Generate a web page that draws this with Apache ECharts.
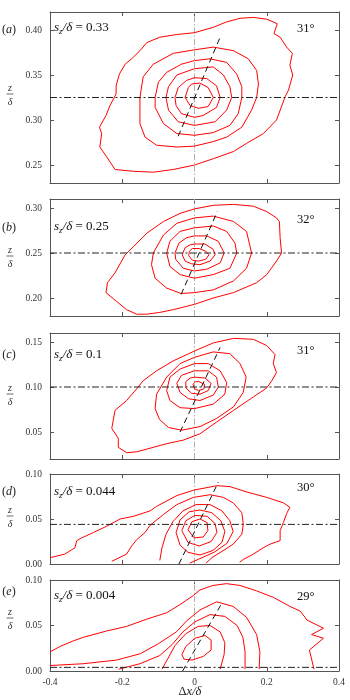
<!DOCTYPE html>
<html>
<head>
<meta charset="utf-8">
<script src="https://cdn.jsdelivr.net/npm/echarts@6/dist/echarts.min.js"></script>
<style>
html, body { margin: 0; padding: 0; background: #fff; }
#chart { width: 350px; height: 700px; }
</style>
</head>
<body>
<div id="chart"></div>
<script>
// ---- data ----
const xRange = [-0.4, 0.4];
const xTickStep = 0.2;
const yRanges = [[0.23, 0.42], [0.18, 0.31], [0.02, 0.16], [0, 0.10], [0, 0.10]];
const yTicks = [
    [0.25, 0.30, 0.35, 0.40],
    [0.20, 0.25, 0.30],
    [0.05, 0.10, 0.15],
    [0, 0.05, 0.10],
    [0, 0.05, 0.10]
];
const panelNames = ['a', 'b', 'c', 'd', 'e'];
const szLevels = [0.325, 0.25, 0.10, 0.044, 0.004];
const szLabels = ['0.33', '0.25', '0.1', '0.044', '0.004'];
const angleLabels = ['31°', '32°', '31°', '30°', '29°'];

// contour lines, outer to inner
const contoursA = [
    [[-0.263,0.292],[-0.257,0.285],[-0.262,0.270],[-0.243,0.259],[-0.220,0.245],[-0.169,0.243],[-0.114,0.242],[-0.059,0.245],[0,0.250],[0.052,0.257],[0.108,0.265],[0.144,0.274],[0.191,0.285],[0.227,0.300],[0.251,0.326],[0.260,0.333],[0.272,0.350],[0.264,0.361],[0.271,0.374],[0.255,0.381],[0.237,0.392],[0.220,0.396],[0.229,0.407],[0.200,0.412],[0.163,0.414],[0.126,0.413],[0.089,0.409],[0.052,0.403],[0,0.397],[-0.049,0.395],[-0.096,0.392],[-0.132,0.386],[-0.151,0.377],[-0.174,0.368],[-0.192,0.362],[-0.208,0.351],[-0.217,0.338],[-0.217,0.329],[-0.234,0.316],[-0.245,0.305],[-0.263,0.292]],
    [[0,0.378],[0.052,0.381],[0.108,0.377],[0.149,0.368],[0.172,0.355],[0.177,0.340],[0.172,0.325],[0.158,0.311],[0.131,0.292],[0.089,0.281],[0.052,0.276],[0,0.271],[-0.049,0.270],[-0.105,0.272],[-0.137,0.281],[-0.151,0.296],[-0.151,0.325],[-0.142,0.348],[-0.114,0.362],[-0.059,0.374],[0,0.378]],
    [[0,0.366],[0.043,0.368],[0.089,0.364],[0.117,0.351],[0.131,0.337],[0.131,0.325],[0.121,0.307],[0.098,0.294],[0.052,0.286],[0,0.283],[-0.049,0.285],[-0.086,0.296],[-0.109,0.314],[-0.109,0.325],[-0.100,0.342],[-0.077,0.353],[-0.036,0.362],[0,0.366]],
    [[0,0.357],[0.052,0.359],[0.080,0.350],[0.098,0.337],[0.103,0.325],[0.089,0.311],[0.057,0.298],[0,0.294],[-0.045,0.298],[-0.072,0.311],[-0.079,0.325],[-0.072,0.337],[-0.049,0.350],[0,0.357]],
    [[0,0.347],[0.034,0.346],[0.061,0.338],[0.071,0.325],[0.061,0.314],[0.024,0.305],[0,0.303],[-0.036,0.307],[-0.051,0.316],[-0.054,0.325],[-0.045,0.336],[-0.022,0.344],[0,0.347]],
    [[-0.008,0.340],[0.015,0.341],[0.038,0.336],[0.052,0.325],[0.038,0.315],[0.011,0.313],[-0.012,0.316],[-0.026,0.325],[-0.017,0.336],[-0.008,0.340]]
];
const contoursB = [
    [[-0.245,0.206],[-0.241,0.217],[-0.220,0.228],[-0.192,0.248],[-0.169,0.257],[-0.132,0.272],[-0.086,0.285],[-0.040,0.294],[0,0.299],[0.052,0.303],[0.108,0.304],[0.163,0.302],[0.200,0.296],[0.227,0.289],[0.235,0.285],[0.237,0.267],[0.241,0.250],[0.227,0.241],[0.200,0.226],[0.172,0.217],[0.108,0.206],[0.052,0.200],[0,0.193],[-0.059,0.187],[-0.096,0.184],[-0.132,0.182],[-0.160,0.182],[-0.188,0.187],[-0.215,0.196],[-0.245,0.206]],
    [[0,0.289],[0.052,0.291],[0.108,0.285],[0.144,0.274],[0.158,0.250],[0.144,0.233],[0.108,0.219],[0.052,0.209],[0,0.206],[-0.037,0.205],[-0.077,0.211],[-0.109,0.222],[-0.119,0.237],[-0.114,0.250],[-0.086,0.270],[-0.049,0.283],[0,0.289]],
    [[0,0.278],[0.052,0.280],[0.089,0.274],[0.112,0.261],[0.117,0.250],[0.098,0.233],[0.052,0.226],[0,0.222],[-0.040,0.226],[-0.068,0.235],[-0.077,0.250],[-0.068,0.263],[-0.040,0.274],[0,0.278]],
    [[0,0.269],[0.034,0.269],[0.066,0.263],[0.082,0.250],[0.071,0.239],[0.034,0.232],[0,0.230],[-0.031,0.233],[-0.052,0.243],[-0.054,0.250],[-0.043,0.261],[-0.022,0.267],[0,0.269]],
    [[0,0.260],[0.029,0.260],[0.052,0.254],[0.057,0.248],[0.043,0.241],[0.015,0.237],[-0.008,0.238],[-0.026,0.241],[-0.034,0.248],[-0.026,0.256],[-0.012,0.259],[0,0.260]],
    [[-0.006,0.255],[0.013,0.255],[0.031,0.252],[0.040,0.248],[0.031,0.243],[0.011,0.241],[-0.006,0.242],[-0.016,0.247],[-0.014,0.252],[-0.006,0.255]]
];
const contoursC = [
    [[-0.220,0.074],[-0.188,0.085],[-0.160,0.098],[-0.142,0.107],[-0.105,0.118],[-0.059,0.129],[0,0.140],[0.052,0.149],[0.108,0.154],[0.163,0.153],[0.200,0.146],[0.223,0.136],[0.218,0.126],[0.227,0.116],[0.214,0.107],[0.200,0.099],[0.163,0.089],[0.108,0.074],[0.061,0.061],[0.015,0.048],[-0.031,0.041],[-0.077,0.037],[-0.123,0.032],[-0.160,0.028],[-0.188,0.027],[-0.211,0.033],[-0.211,0.043],[-0.229,0.054],[-0.220,0.074]],
    [[-0.109,0.076],[-0.105,0.092],[-0.077,0.111],[-0.040,0.126],[0,0.133],[0.052,0.139],[0.098,0.137],[0.126,0.126],[0.143,0.111],[0.135,0.094],[0.108,0.078],[0.061,0.065],[0.015,0.056],[-0.035,0.052],[-0.072,0.055],[-0.097,0.064],[-0.109,0.076]],
    [[0,0.126],[0.038,0.126],[0.071,0.118],[0.089,0.105],[0.084,0.092],[0.052,0.081],[0,0.076],[-0.040,0.077],[-0.068,0.085],[-0.077,0.096],[-0.068,0.111],[-0.040,0.120],[0,0.126]],
    [[0,0.118],[0.038,0.118],[0.061,0.111],[0.066,0.100],[0.052,0.091],[0.015,0.085],[-0.017,0.087],[-0.040,0.094],[-0.049,0.104],[-0.036,0.113],[0,0.118]],
    [[0,0.111],[0.029,0.110],[0.046,0.104],[0.038,0.096],[0.015,0.092],[-0.008,0.093],[-0.024,0.099],[-0.024,0.106],[-0.012,0.110],[0,0.111]],
    [[0.012,0.106],[0.028,0.103],[0.026,0.098],[0.011,0.096],[0,0.098],[-0.004,0.103],[0.003,0.106],[0.012,0.106]]
];
const contoursD = [
    [[-0.400,0.007],[-0.359,0.011],[-0.331,0.018],[-0.326,0.026],[-0.312,0.029],[-0.280,0.035],[-0.243,0.042],[-0.206,0.050],[-0.169,0.053],[-0.123,0.059],[-0.105,0.064],[-0.049,0.076],[-0.003,0.082],[0.062,0.087],[0.098,0.086],[0.145,0.080],[0.200,0.074],[0.246,0.068],[0.264,0.063],[0.255,0.056],[0.246,0.046],[0.237,0.037],[0.237,0.026],[0.209,0.022],[0.190,0.018],[0.163,0.011],[0.135,0.005],[0.125,0.002]],
    [[-0.229,0.003],[-0.188,0.011],[-0.174,0.020],[-0.160,0.027],[-0.137,0.035],[-0.123,0.043],[-0.086,0.055],[-0.049,0.066],[-0.003,0.074],[0.043,0.077],[0.080,0.074],[0.107,0.068],[0.131,0.057],[0.135,0.044],[0.131,0.033],[0.107,0.022],[0.076,0.014],[0.048,0.007],[0.032,0.001]],
    [[-0.096,0.004],[-0.090,0.018],[-0.079,0.033],[-0.060,0.047],[-0.032,0.059],[0.004,0.066],[0.043,0.066],[0.076,0.059],[0.098,0.048],[0.107,0.036],[0.090,0.023],[0.054,0.013],[0.015,0.006],[-0.013,0.001]],
    [[-0.051,0.035],[-0.040,0.049],[-0.015,0.058],[0.015,0.060],[0.048,0.057],[0.073,0.048],[0.084,0.036],[0.076,0.024],[0.051,0.015],[0.015,0.010],[-0.018,0.013],[-0.040,0.021],[-0.051,0.035]],
    [[-0.035,0.037],[-0.024,0.048],[0.001,0.054],[0.035,0.053],[0.057,0.045],[0.062,0.035],[0.046,0.025],[0.013,0.020],[-0.018,0.024],[-0.035,0.037]],
    [[-0.018,0.038],[-0.007,0.047],[0.015,0.050],[0.035,0.046],[0.037,0.037],[0.024,0.030],[-0.001,0.029],[-0.018,0.038]]
];
const contoursE = [
    [[-0.400,0.021],[-0.372,0.027],[-0.336,0.033],[-0.308,0.037],[-0.243,0.044],[-0.188,0.049],[-0.132,0.057],[-0.077,0.064],[-0.040,0.073],[-0.003,0.083],[0.015,0.089],[0.051,0.094],[0.089,0.096],[0.126,0.094],[0.172,0.088],[0.218,0.081],[0.264,0.071],[0.292,0.066],[0.306,0.059],[0.311,0.056],[0.357,0.047],[0.324,0.040],[0.357,0.036],[0.318,0.023],[0.329,0.005],[0.331,0.002]],
    [[-0.400,0.006],[-0.308,0.008],[-0.216,0.012],[-0.150,0.019],[-0.100,0.030],[-0.050,0.043],[-0.022,0.055],[0.015,0.067],[0.061,0.076],[0.107,0.071],[0.144,0.059],[0.172,0.040],[0.181,0.021],[0.179,0.002]],
    [[-0.210,0.002],[-0.151,0.008],[-0.096,0.017],[-0.062,0.029],[-0.032,0.043],[0.001,0.054],[0.043,0.062],[0.084,0.060],[0.118,0.050],[0.134,0.037],[0.140,0.021],[0.140,0.002]],
    [[-0.090,0.002],[-0.076,0.012],[-0.054,0.028],[-0.024,0.041],[0.010,0.049],[0.043,0.050],[0.071,0.043],[0.084,0.031],[0.082,0.018],[0.071,0.002]],
    [[-0.035,0.018],[-0.024,0.027],[0.001,0.036],[0.029,0.039],[0.046,0.034],[0.046,0.023],[0.024,0.016],[-0.007,0.012],[-0.029,0.013],[-0.035,0.018]]
];

// tilted principal axis (dashed)
const principalA = [[-0.045, 0.282], [0.071, 0.392]];
const principalB = [[-0.037, 0.204], [0.063, 0.296]];
const principalC = [[-0.040, 0.050], [0.071, 0.144]];
const principalD = [[-0.043, 0.000], [0.066, 0.091]];
const principalE = [[-0.033, 0.000], [0.078, 0.076]];

// ---- layout ----
const plotLeft = 50;
const plotWidth = 289;
const gridTops = [12, 199, 333, 474, 580];
const gridHeights = [171, 117, 126, 90, 91];
const panelLabelY = [30, 228, 355, 492, 592];
const szLabelY = [28, 227, 355, 492, 596];
const angleY = [29, 220, 351, 488, 597];
const fracBarY = [94, 256, 394, 516, 618];

const serif = '"Liberation Serif", "DejaVu Serif", serif';
const axisColor = '#555';
const red = '#ff0000';

const contourSets = [contoursA, contoursB, contoursC, contoursD, contoursE];
const principalLines = [principalA, principalB, principalC, principalD, principalE];

let charts = echarts.init(document.getElementById('chart'));

function xAxisCfg(i, pos, labels){
    return {
        gridIndex: i,
        type: 'value',
        position: pos,
        min: xRange[0],
        max: xRange[1],
        interval: xTickStep,
        axisLine: {show: true, onZero: false, lineStyle: {color: axisColor, width: 1}},
        axisTick: {show: true, inside: true, length: 4, lineStyle: {color: axisColor}},
        axisLabel: {
            show: labels,
            fontFamily: serif,
            fontSize: 9.5,
            color: '#333',
            margin: 6,
            formatter: v => (Math.abs(v) < 1e-9 ? '0' : String(+v.toFixed(1)))
        },
        splitLine: {show: false}
    };
}

function yAxisCfg(i, pos, labels){
    return {
        gridIndex: i,
        type: 'value',
        position: pos,
        min: yRanges[i][0],
        max: yRanges[i][1],
        axisLine: {show: true, onZero: false, lineStyle: {color: axisColor, width: 1}},
        axisTick: {show: true, inside: true, length: 4, customValues: yTicks[i], lineStyle: {color: axisColor}},
        axisLabel: {
            show: labels,
            customValues: yTicks[i],
            fontFamily: serif,
            fontSize: 9.5,
            color: '#333',
            margin: 8,
            formatter: v => v.toFixed(2)
        },
        splitLine: {show: false}
    };
}

const grids = [], xAxes = [], yAxes = [], series = [], graphics = [];

for (let i = 0; i < 5; i++){
    grids.push({left: plotLeft, top: gridTops[i], width: plotWidth, height: gridHeights[i]});
    xAxes.push(xAxisCfg(i, 'bottom', i === 4));
    xAxes.push(xAxisCfg(i, 'top', false));
    yAxes.push(yAxisCfg(i, 'left', true));
    yAxes.push(yAxisCfg(i, 'right', false));

    const axisRef = {xAxisIndex: 2 * i, yAxisIndex: 2 * i};

    // vertical reference at x = 0
    series.push(Object.assign({
        type: 'line',
        data: [[0, yRanges[i][0]], [0, yRanges[i][1]]],
        symbol: 'none',
        lineStyle: {color: '#b0b0b0', width: 1, type: [6, 2, 1.5, 2]},
        silent: true, z: 1
    }, axisRef));

    // contours
    contourSets[i].forEach(c => {
        series.push(Object.assign({
            type: 'line',
            data: c,
            symbol: 'none',
            smooth: false,
            lineStyle: {color: red, width: 1},
            silent: true, z: 2
        }, axisRef));
    });

    // horizontal reference at s_z
    series.push(Object.assign({
        type: 'line',
        data: [[xRange[0], szLevels[i]], [xRange[1], szLevels[i]]],
        symbol: 'none',
        lineStyle: {color: '#222', width: 1, type: [7, 2.5, 2, 2.5]},
        silent: true, z: 3
    }, axisRef));

    // principal axis
    series.push(Object.assign({
        type: 'line',
        data: principalLines[i],
        symbol: 'none',
        lineStyle: {color: '#111', width: 1, type: [6, 4]},
        silent: true, z: 3
    }, axisRef));

    // panel label (a) ...
    graphics.push({
        type: 'text',
        style: {
            x: 9, y: panelLabelY[i],
            text: '{n|(}{i|' + panelNames[i] + '}{n|)}',
            align: 'center', verticalAlign: 'middle',
            rich: {
                n: {fontFamily: serif, fontSize: 12, fill: '#222'},
                i: {fontFamily: serif, fontSize: 12, fontStyle: 'italic', fill: '#222'}
            }
        }
    });

    // s_z / delta = ...
    graphics.push({
        type: 'text',
        style: {
            x: 54, y: szLabelY[i],
            text: '{i|s}{sub|z}{i|/δ}{n| = ' + szLabels[i] + '}',
            align: 'left', verticalAlign: 'middle',
            rich: {
                i: {fontFamily: serif, fontSize: 13, fontStyle: 'italic', fill: '#111', lineHeight: 16},
                sub: {fontFamily: serif, fontSize: 9, fontStyle: 'italic', fill: '#111', verticalAlign: 'bottom', lineHeight: 9},
                n: {fontFamily: serif, fontSize: 13, fill: '#111', lineHeight: 16}
            }
        }
    });

    // angle
    graphics.push({
        type: 'text',
        style: {
            x: 297, y: angleY[i],
            text: angleLabels[i],
            align: 'left', verticalAlign: 'middle',
            font: '12.5px ' + serif,
            fill: '#111'
        }
    });

    // y label z / delta (fraction)
    graphics.push({
        type: 'text',
        style: {x: 10, y: fracBarY[i] - 6, text: 'z', align: 'center', verticalAlign: 'middle',
            font: 'italic 10px ' + serif, fill: '#333'}
    });
    graphics.push({
        type: 'line',
        shape: {x1: 6.5, y1: fracBarY[i], x2: 13.5, y2: fracBarY[i]},
        style: {stroke: '#444', lineWidth: 0.8}
    });
    graphics.push({
        type: 'text',
        style: {x: 10, y: fracBarY[i] + 8, text: 'δ', align: 'center', verticalAlign: 'middle',
            font: 'italic 10px ' + serif, fill: '#333'}
    });
}

// x axis title
graphics.push({
    type: 'text',
    style: {
        x: 190, y: 692,
        text: '{n|Δ}{i|x/δ}',
        align: 'center', verticalAlign: 'middle',
        rich: {
            n: {fontFamily: serif, fontSize: 12.5, fill: '#222'},
            i: {fontFamily: serif, fontSize: 12.5, fontStyle: 'italic', fill: '#222'}
        }
    }
});

let option = {
    animation: false,
    backgroundColor: '#fff',
    grid: grids,
    xAxis: xAxes,
    yAxis: yAxes,
    series: series,
    graphic: {elements: graphics}
};

charts.setOption(option);
</script>
</body>
</html>
